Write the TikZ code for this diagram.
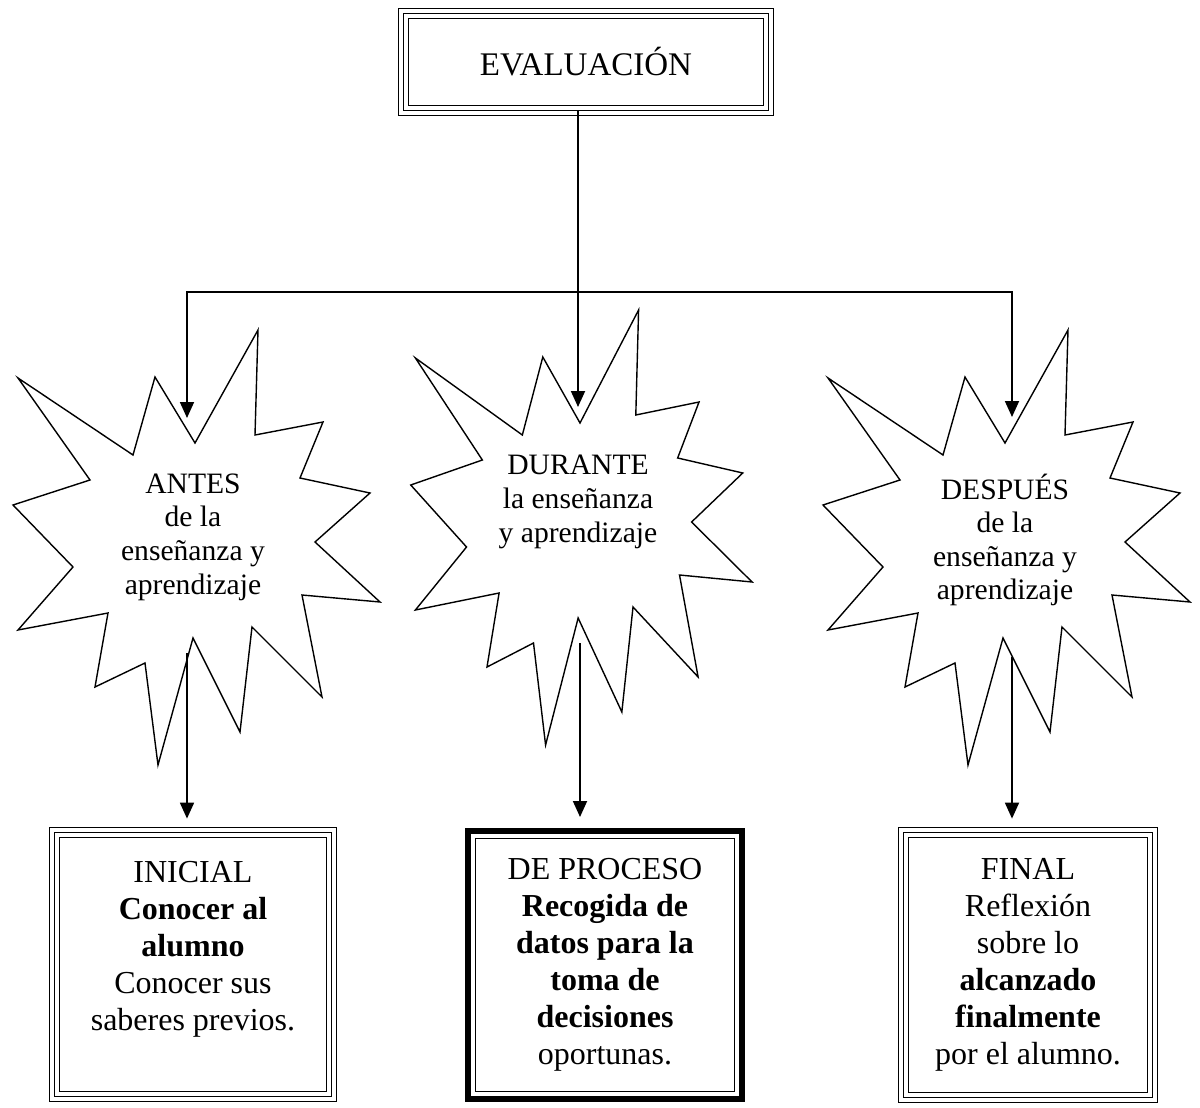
\documentclass[tikz,border=0pt]{standalone}
\usepackage{fontspec}
\setmainfont{Liberation Serif}
\usetikzlibrary{arrows.meta, positioning}

\tikzset{
  burst/.pic={
    \draw[line width=0.7pt] (63,-210) -- (60,-105) -- (128,-118) -- (105,-62) -- (175,-47) -- (120,2) -- (185,62) -- (107,55) -- (127,157) -- (57,87) -- (45,192) -- (-2,98) -- (-37,225) -- (-50,123) -- (-100,147) -- (-87,73) -- (-177,90) -- (-122,27) -- (-182,-35) -- (-105,-60) -- (-177,-162) -- (-62,-85) -- (-40,-163) -- (0,-97) -- cycle;
  }
}

\begin{document}
\begin{tikzpicture}[
    x=0.5pt, y=-0.5pt,
    frame/.style={preaction={draw, line width=5.6pt}, preaction={draw=white, line width=4.4pt}, draw, line width=0.5pt, outer sep=0pt, inner sep=0pt, align=center, font=\fontsize{16pt}{18.5pt}\selectfont},
    heavyframe/.style={draw, line width=3pt, outer sep=0pt, inner sep=0pt, align=center, font=\fontsize{16pt}{18.5pt}\selectfont},
    bursttext/.style={align=center, font=\fontsize{14.8pt}{16.8pt}\selectfont},
    arrow/.style={-{Triangle[length=8pt, width=7pt]}, line width=0.9pt}
  ]
  \useasboundingbox (0,0) rectangle (1200,1108);

  \node[frame, minimum width=182.4pt, minimum height=48.4pt, font=\fontsize{16.5pt}{20pt}\selectfont] (eval) at (586,62) {EVALUACIÓN};

  \pic at (195,540) {burst};
  \pic[xscale=0.93] at (580,520) {burst};
  \pic at (1005,540) {burst};

  \node[bursttext] (antes) at (193,537) {ANTES\\de la\\enseñanza y\\aprendizaje};
  \node[bursttext] (durante) at (578,502) {DURANTE\\la enseñanza\\y aprendizaje};
  \node[bursttext] (despues) at (1005,540) {DESPUÉS\\de la\\enseñanza y\\aprendizaje};

  \node[frame, minimum width=138.4pt, minimum height=131.9pt] (inicial) at (193,964.5) {INICIAL\\\textbf{Conocer al}\\\textbf{alumno}\\Conocer sus\\saberes previos.\\\mbox{}};
  \node[heavyframe, minimum width=137pt, minimum height=134pt] (proceso) at (605,965) {DE PROCESO\\\textbf{Recogida de}\\\textbf{datos para la}\\\textbf{toma de}\\\textbf{decisiones}\\oportunas.};
  \draw[line width=0.6pt] ([shift={(3.6pt,-3.6pt)}]proceso.north west) rectangle ([shift={(-3.6pt,3.6pt)}]proceso.south east);
  \node[frame, minimum width=124.4pt, minimum height=132.4pt] (final) at (1028,965) {FINAL\\Reflexión\\sobre lo\\\textbf{alcanzado}\\\textbf{finalmente}\\por el alumno.};

  \coordinate (split) at (578,292);
  \coordinate (antes-in) at (187,418);
  \coordinate (durante-in) at (578,407);
  \coordinate (despues-in) at (1012,417);
  \coordinate (antes-out) at (187,653);
  \coordinate (durante-out) at (580,643);
  \coordinate (despues-out) at (1012,657);

  \draw[arrow] (eval.south -| durante-in) -- (durante-in);
  \draw[arrow] (split) -| (antes-in);
  \draw[arrow] (split) -| (despues-in);
  \draw[arrow, shorten >=7pt] (antes-out) -- (antes-out |- inicial.north);
  \draw[arrow, shorten >=7pt] (durante-out) -- (durante-out |- proceso.north);
  \draw[arrow, shorten >=7pt] (despues-out) -- (despues-out |- final.north);
\end{tikzpicture}
\end{document}
